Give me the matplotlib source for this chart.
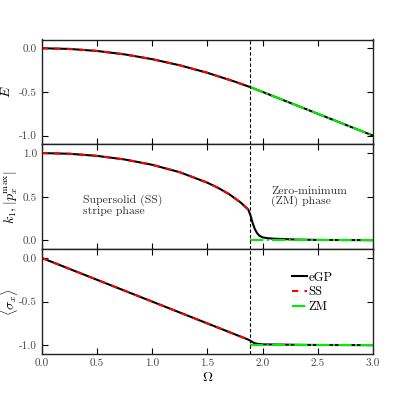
import numpy as np
import matplotlib
matplotlib.use("Agg")
import matplotlib.pyplot as plt

# values
omega_c = 1.89

# energy
om_e_egp = [0.0, 0.25, 0.5, 0.75, 1.0, 1.25, 1.5, 1.75, 1.89, 2.0, 2.25, 2.5, 2.75, 3.0]
e_egp = [0.0, -0.008, -0.031, -0.070, -0.125, -0.195, -0.281, -0.383, -0.446, -0.50, -0.625, -0.75, -0.875, -1.0]
om_e_ss = [0.0, 0.25, 0.5, 0.75, 1.0, 1.25, 1.5, 1.75, 1.89]
e_ss = [0.0, -0.008, -0.031, -0.070, -0.125, -0.195, -0.281, -0.383, -0.446]
om_e_zm = [1.89, 2.25, 2.5, 2.75, 3.0]
e_zm = [-0.446, -0.625, -0.75, -0.875, -1.0]

# k1 / |p_x^max|
om_k_egp = [0.0, 0.25, 0.5, 0.75, 1.0, 1.25, 1.5, 1.6, 1.7, 1.8, 1.87, 1.89, 1.91, 1.93, 1.95,
            1.97, 2.0, 2.05, 2.1, 2.2, 2.3, 2.5, 2.75, 3.0]
k_egp = [1.0, 0.992, 0.968, 0.927, 0.866, 0.781, 0.661, 0.6, 0.527, 0.436, 0.354, 0.29, 0.2, 0.13, 0.085,
         0.055, 0.035, 0.025, 0.02, 0.015, 0.01, 0.006, 0.004, 0.003]
om_k_ss = [0.0, 0.25, 0.5, 0.75, 1.0, 1.25, 1.5, 1.6, 1.7, 1.8, 1.87]
k_ss = [1.0, 0.992, 0.968, 0.927, 0.866, 0.781, 0.661, 0.6, 0.527, 0.436, 0.354]
om_k_zm = [1.89, 3.0]
k_zm = [0.0, 0.0]

# <sigma_x>
om_s_egp = [0.0, 0.5, 1.0, 1.5, 1.87, 1.89, 1.91, 1.93, 1.96, 2.0, 2.2, 2.4, 3.0]
s_egp = [0.0, -0.25, -0.5, -0.75, -0.935, -0.948, -0.965, -0.977, -0.985, -0.99, -0.993, -0.996, -0.999]
om_s_ss = [0.0, 0.5, 1.0, 1.5, 1.89]
s_ss = [0.0, -0.25, -0.5, -0.75, -0.945]
om_s_zm = [1.89, 3.0]
s_zm = [-1.0, -1.0]

plt.rcParams['font.family'] = 'cmr10'
plt.rcParams['mathtext.fontset'] = 'cm'
plt.rcParams['axes.formatter.use_mathtext'] = True
plt.rcParams['axes.unicode_minus'] = False

fig = plt.figure(figsize=(4.15, 3.94), dpi=100)
left, right = 41.7 / 415, 373 / 415
top, bottom = 1 - 39.5 / 394, 1 - 354 / 394
h = (top - bottom) / 3
axes = [fig.add_axes([left, top - (i + 1) * h, right - left, h]) for i in range(3)]

green = '#00ee00'
datasets = [
    (om_e_egp, e_egp, om_e_ss, e_ss, om_e_zm, e_zm),
    (om_k_egp, k_egp, om_k_ss, k_ss, om_k_zm, k_zm),
    (om_s_egp, s_egp, om_s_ss, s_ss, om_s_zm, s_zm),
]
for ax, (x1, y1, x2, y2, x3, y3) in zip(axes, datasets):
    ax.plot(x1, y1, '-', color='black', lw=1.5, label='eGP')
    ax.plot(x2, y2, '--', color='red', lw=1.5, dashes=(3, 3), label='SS')
    ax.plot(x3, y3, '-.', color=green, lw=1.5, label='ZM')
    ax.axvline(omega_c, color='black', lw=0.8, ls='--', dashes=(3, 2))
    ax.set_xlim(0, 3)
    ax.set_xticks([0.0, 0.5, 1.0, 1.5, 2.0, 2.5, 3.0])
    ax.tick_params(direction='in', top=True, right=True, labelsize=8, length=4,
                   labelcolor='#444444')
    for s in ax.spines.values():
        s.set_linewidth(1.0)
        s.set_color('#222222')

axes[0].set_ylim(-1.1, 0.1)
axes[0].set_yticks([0.0, -0.5, -1.0])
axes[0].set_yticklabels(['0.0', '-0.5', '-1.0'])
axes[1].set_ylim(-0.1, 1.1)
axes[1].set_yticks([0.0, 0.5, 1.0])
axes[1].set_yticklabels(['0.0', '0.5', '1.0'])
axes[2].set_ylim(-1.1, 0.1)
axes[2].set_yticks([0.0, -0.5, -1.0])
axes[2].set_yticklabels(['0.0', '-0.5', '-1.0'])
for ax in axes[:2]:
    ax.tick_params(labelbottom=False)
axes[2].set_xticklabels(['0.0', '0.5', '1.0', '1.5', '2.0', '2.5', '3.0'])

axes[0].set_ylabel(r'$E$', fontsize=10)
axes[1].set_ylabel(r'$k_1,|p_x^{\max}|$', fontsize=10)
axes[2].set_ylabel(r'$\langle\sigma_x\rangle$', fontsize=10)
axes[0].yaxis.set_label_coords(-0.087, 0.5)
axes[1].yaxis.set_label_coords(-0.065, 0.5)
axes[2].yaxis.set_label_coords(-0.066, 0.5)
axes[2].set_xlabel(r'$\Omega$', fontsize=10, labelpad=2)

axes[1].text(0.375, 0.40, 'Supersolid (SS)\nstripe phase', fontsize=8.5, color='#333333',
             linespacing=0.95, ha='left', va='center')
axes[1].text(2.076, 0.50, 'Zero-minimum\n(ZM) phase', fontsize=8.5, color='#333333',
             linespacing=0.95, ha='left', va='center')

axes[2].legend(loc='upper left', bbox_to_anchor=(0.755, 0.785), frameon=False, fontsize=9,
               handlelength=1.25, handletextpad=0.1, labelspacing=0.2, borderpad=0,
               borderaxespad=0)

fig.savefig('out.png', dpi=100)
